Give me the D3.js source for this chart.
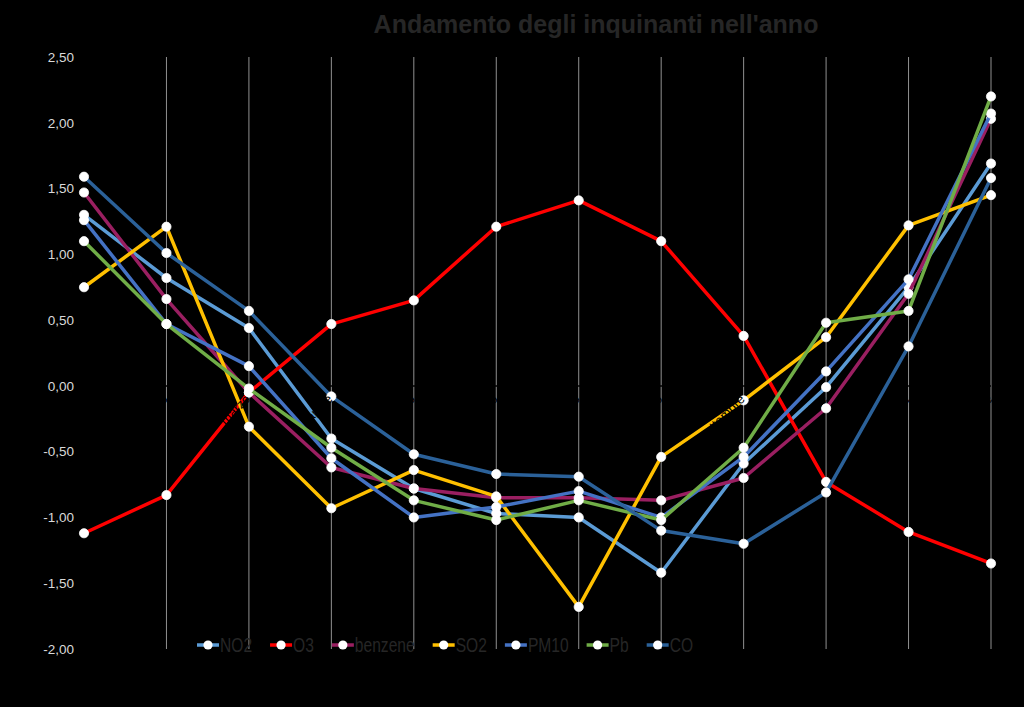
<!DOCTYPE html>
<html><head><meta charset="utf-8">
<script src="https://cdn.jsdelivr.net/npm/d3@7"></script>
<style>html,body{margin:0;padding:0;background:#000;}svg{display:block;}</style>
</head><body>
<script>
const months = ["gennaio","febbraio","marzo","aprile","maggio","giugno","luglio","agosto","settembre","ottobre","novembre","dicembre"];
const yTicks = [-2, -1.5, -1, -0.5, 0, 0.5, 1, 1.5, 2, 2.5];
const seriesNames = ["NO2","O3","benzene","SO2","PM10","Pb","CO"];
const NO2     = [1.30, 0.82, 0.44, -0.40, -0.78, -0.97, -1.00, -1.42, -0.59, -0.01, 0.75, 1.69];
const O3      = [-1.12, -0.83, -0.05, 0.47, 0.65, 1.21, 1.41, 1.10, 0.38, -0.73, -1.11, -1.35];
const benzene = [1.47, 0.66, -0.05, -0.62, -0.78, -0.85, -0.85, -0.87, -0.70, -0.17, 0.70, 2.03];
const SO2     = [0.75, 1.21, -0.31, -0.93, -0.64, -0.84, -1.68, -0.54, -0.11, 0.37, 1.22, 1.45];
const PM10    = [1.26, 0.47, 0.15, -0.55, -1.00, -0.92, -0.80, -1.00, -0.54, 0.11, 0.81, 2.07];
const Pb      = [1.10, 0.47, -0.02, -0.47, -0.87, -1.02, -0.87, -1.02, -0.47, 0.48, 0.57, 2.20];
const CO      = [1.59, 1.01, 0.57, -0.08, -0.52, -0.67, -0.69, -1.10, -1.20, -0.81, 0.30, 1.58];
const colors  = ["#5B9BD5","#FF0000","#9A1F61","#FFC000","#4472C4","#70AD47","#2B6199"];

const seriesValues = [NO2, O3, benzene, SO2, PM10, Pb, CO];
const W = 1024, H = 707;
const svg = d3.select("body").append("svg").attr("width", W).attr("height", H)
  .style("background", "#000").style("font-family", "'Liberation Sans', Arial, sans-serif");
svg.append("rect").attr("width", W).attr("height", H).attr("fill", "#000");

const x = d3.scalePoint().domain(months).range([84, 991]);
const y = d3.scaleLinear().domain([-2, 2.5]).range([649, 57]);

// title
svg.append("text").attr("x", 596).attr("y", 33).attr("text-anchor", "middle")
  .attr("font-size", 25).attr("font-weight", "bold").attr("fill", "#262626")
  .text("Andamento degli inquinanti nell'anno");

// vertical gridlines
svg.append("g").selectAll("line").data(months.slice(1)).join("line")
  .attr("x1", d => x(d)).attr("x2", d => x(d))
  .attr("y1", y(2.5)).attr("y2", y(-2))
  .attr("stroke", "#909090").attr("stroke-width", 1);

// y axis
const fmt = d => d3.format(".2f")(d).replace(".", ",").replace("−", "-");
const yAxis = svg.append("g").attr("transform", "translate(74,0)")
  .call(d3.axisLeft(y).tickValues(yTicks).tickFormat(fmt).tickSize(0).tickPadding(0));
yAxis.select(".domain").remove();
yAxis.selectAll("text").attr("fill", "#d9d9d9").attr("font-size", 13.5);

// horizontal axis at zero (black)
svg.append("line").attr("x1", 84).attr("x2", 991).attr("y1", y(0)).attr("y2", y(0))
  .attr("stroke", "#000").attr("stroke-width", 1.5);

// series
const line = d3.line().x((d, i) => x(months[i])).y(d => y(d));
seriesValues.forEach((vals, si) => {
  const g = svg.append("g");
  g.append("path").datum(vals).attr("d", line).attr("fill", "none")
    .attr("stroke", colors[si]).attr("stroke-width", 3.5).attr("stroke-linejoin", "round");
  g.selectAll("circle").data(vals).join("circle")
    .attr("cx", (d, i) => x(months[i])).attr("cy", d => y(d)).attr("r", 4.6)
    .attr("fill", "#fff").attr("stroke", "#fff").attr("stroke-width", 0.8);
});

// category labels (black, rotated)
svg.append("g").selectAll("text").data(months).join("text")
  .attr("transform", d => `translate(${x(d) + 2},${y(0) + 14}) rotate(-45)`)
  .attr("text-anchor", "end").attr("font-size", 13).attr("fill", "#000")
  .text(d => d);

// legend
const legend = svg.append("g").attr("transform", "translate(197,645)");
const sx = 0.78;
let lx = 0;
seriesNames.forEach((name, si) => {
  const it = legend.append("g").attr("transform", `translate(${lx},0)`);
  it.append("line").attr("x1", 0).attr("x2", 22).attr("y1", 0).attr("y2", 0)
    .attr("stroke", colors[si]).attr("stroke-width", 3.5);
  it.append("circle").attr("cx", 11).attr("cy", 0).attr("r", 4.6).attr("fill", "#fff");
  const t = it.append("text").attr("transform", `translate(23,7) scale(${sx},1)`)
    .attr("font-size", 20).attr("fill", "#262626").text(name);
  lx += 23 + t.node().getComputedTextLength() * sx + 18;
});
</script>
</body></html>
